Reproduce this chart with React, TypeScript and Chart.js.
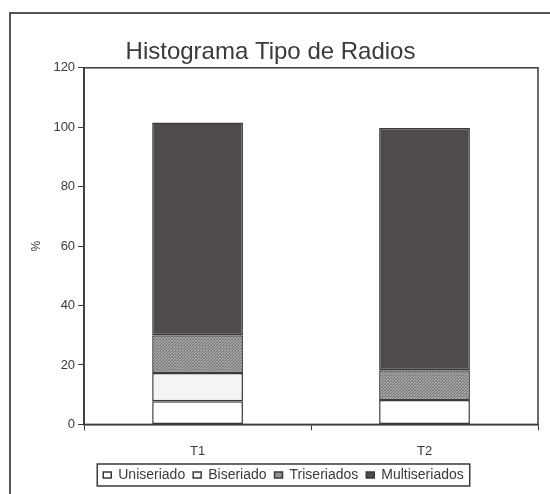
import React, { useEffect, useRef } from "react";
import { Chart, registerables } from "chart.js";

Chart.register(...registerables);

const categories = ["T1", "T2"];
const uniseriado = [7.8, 8.2];
const biseriado = [9.5, 0];
const triseriados = [12.7, 10];
const multiseriados = [71.6, 81.5];
const yTicks = [0, 20, 40, 60, 80, 100, 120];

const FONT = "'Liberation Sans', Arial, sans-serif";
const INK = "#3a3a3a";

function makePattern(): CanvasPattern | string {
  const c = document.createElement("canvas");
  c.width = 3;
  c.height = 3;
  const g = c.getContext("2d");
  if (!g) return "#8e8e8e";
  g.fillStyle = "#a6a6a6";
  g.fillRect(0, 0, 3, 3);
  g.fillStyle = "#747474";
  g.fillRect(0, 0, 1, 1);
  g.fillRect(2, 1, 1, 1);
  g.fillRect(1, 2, 1, 1);
  g.fillStyle = "#8a8a8a";
  g.fillRect(1, 0, 1, 1);
  const p = g.createPattern(c, "repeat");
  return p || "#8e8e8e";
}

const plotBox = {
  id: "plotBox",
  afterLayout(chart: any) {
    const tb = chart.titleBlock;
    if (tb) {
      tb.left -= 13;
      tb.right -= 13;
    }
  },
  afterDraw(chart: any) {
    const { ctx, chartArea } = chart;
    ctx.save();
    ctx.strokeStyle = INK;
    ctx.lineWidth = 1.5;
    ctx.strokeRect(chartArea.left, chartArea.top, chartArea.right - chartArea.left, chartArea.bottom - chartArea.top);
    const lg = chart.legend;
    if (lg) {
      const items = lg.legendHitBoxes || [];
      if (items.length) {
        const l = items[0].left - 6;
        const last = items[items.length - 1];
        const r = last.left + last.width + 6;
        const t = items[0].top - 4;
        const b = items[0].top + items[0].height + 4;
        ctx.strokeRect(l, t, r - l, b - t);
      }
    }
    ctx.restore();
  },
};

export default function App() {
  const ref = useRef<HTMLCanvasElement | null>(null);
  useEffect(() => {
    if (!ref.current) return;
    const pat = makePattern();
    const common = { borderColor: INK, borderWidth: 1.5, borderSkipped: false, barPercentage: 0.4, categoryPercentage: 1 };
    const chart = new Chart(ref.current, {
      type: "bar",
      data: {
        labels: categories,
        datasets: [
          { label: "Uniseriado", data: uniseriado, backgroundColor: "#ffffff", ...common },
          { label: "Biseriado", data: biseriado, backgroundColor: "#f4f4f4", ...common },
          { label: "Triseriados", data: triseriados, backgroundColor: pat as any, ...common },
          { label: "Multiseriados", data: multiseriados, backgroundColor: "#504a4a", ...common },
        ],
      },
      options: {
        responsive: false,
        animation: false,
        layout: { padding: { left: 29, right: 12, top: 38, bottom: 2 } },
        plugins: {
          tooltip: { enabled: false },
          title: {
            display: true,
            text: "Histograma Tipo de Radios",
            color: INK,
            font: { family: FONT, size: 24, weight: "normal" },
            padding: { top: 0, bottom: 1 },
          },
          legend: {
            position: "bottom",
            labels: {
              color: INK,
              font: { family: FONT, size: 14 },
              boxWidth: 8,
              boxHeight: 6,
              padding: 8,
            },
          },
        },
        scales: {
          x: {
            stacked: true,
            grid: { drawOnChartArea: false, drawTicks: true, tickLength: 6, color: INK, offset: true },
            border: { color: INK, width: 1.5 },
            ticks: { color: INK, font: { family: FONT, size: 13 }, padding: 13 },
            afterFit: (scale: any) => {
              scale.height = scale.height - 12;
            },
          },
          y: {
            stacked: true,
            min: 0,
            max: 120,
            afterBuildTicks: (axis: any) => {
              axis.ticks = yTicks.map((v) => ({ value: v }));
            },
            grid: { drawOnChartArea: false, drawTicks: true, tickLength: 6, color: INK },
            border: { color: INK, width: 1.5 },
            ticks: { color: INK, font: { family: FONT, size: 13 }, padding: 3 },
            title: { display: true, text: "%", color: INK, font: { family: FONT, size: 12 }, padding: { top: 0, bottom: 7 } },
          },
        },
      },
      plugins: [plotBox],
    });
    return () => chart.destroy();
  }, []);
  return (
    <div style={{ position: "fixed", left: 0, top: 0, width: 550, height: 494, overflow: "hidden", background: "#fff" }}>
      <div style={{ position: "absolute", left: 9, top: 12, width: 700, height: 700, border: "2px solid #555" }} />
      <canvas ref={ref} width={550} height={494} style={{ position: "absolute", left: 0, top: 0 }} />
    </div>
  );
}
